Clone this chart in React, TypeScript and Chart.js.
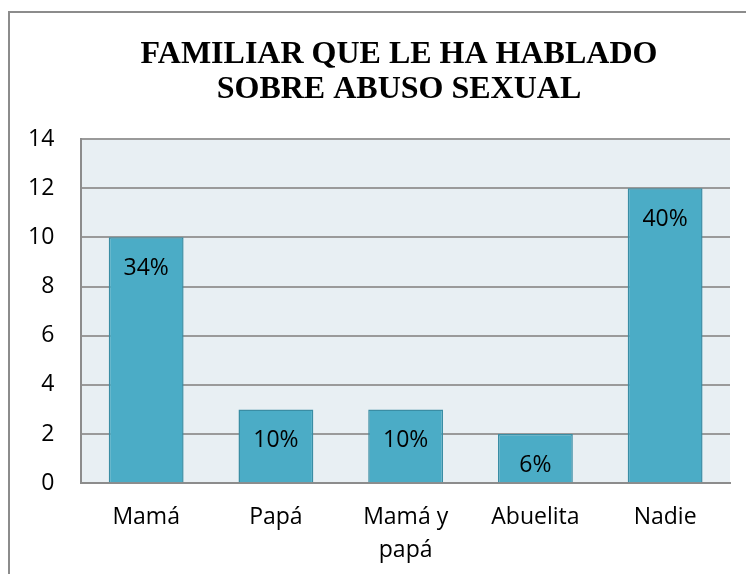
import React, { useEffect, useRef } from "react";
import { Chart, registerables } from "chart.js";

Chart.register(...registerables);

const categories: (string | string[])[] = ["Mamá", "Papá", ["Mamá y", "papá"], "Abuelita", "Nadie"];
const values = [10, 3, 3, 2, 12];
const percentLabels = ["34%", "10%", "10%", "6%", "40%"];
const titleLines = ["FAMILIAR QUE LE HA HABLADO", "SOBRE ABUSO SEXUAL"];
const yMax = 14;
const yStep = 2;

const FONT = "'Open Sans', Lato, sans-serif";
const TITLE_FONT = "bold 32px 'Liberation Serif', 'Times New Roman', serif";

const decorPlugin = {
  id: "decor",
  beforeDraw(chart: any) {
    const { ctx, chartArea } = chart;
    ctx.save();
    ctx.fillStyle = "#ffffff";
    ctx.fillRect(0, 0, chart.width, chart.height);
    ctx.strokeStyle = "#8c8c8c";
    ctx.lineWidth = 2;
    ctx.strokeRect(9, 12, chart.width + 20, chart.height + 20);
    ctx.fillStyle = "#e8eff3";
    ctx.fillRect(chartArea.left, chartArea.top, chartArea.right - chartArea.left, chartArea.bottom - chartArea.top);
    ctx.restore();
  },
  afterDatasetsDraw(chart: any) {
    const { ctx } = chart;
    const meta = chart.getDatasetMeta(0);
    ctx.save();
    ctx.fillStyle = "#000000";
    ctx.font = `23px ${FONT}`;
    ctx.textAlign = "center";
    ctx.textBaseline = "middle";
    meta.data.forEach((bar: any, i: number) => {
      ctx.fillText(percentLabels[i], bar.x, bar.y + 31);
    });
    ctx.font = TITLE_FONT;
    titleLines.forEach((line, i) => {
      ctx.fillText(line, 399, 55 + i * 35);
    });
    ctx.restore();
  },
};

export default function App() {
  const ref = useRef<HTMLCanvasElement>(null);
  useEffect(() => {
    if (!ref.current) return;
    const chart = new Chart(ref.current, {
      type: "bar",
      data: {
        labels: categories,
        datasets: [
          {
            data: values,
            backgroundColor: "#4bacc6",
            borderColor: "#3a8da4",
            borderWidth: 1.5,
            categoryPercentage: 1,
            barPercentage: 0.577,
          },
        ],
      },
      options: {
        animation: false,
        responsive: false,
        layout: { padding: { left: 1, right: 16, top: 139, bottom: -11 } },
        plugins: {
          legend: { display: false },
          tooltip: { enabled: false },
          title: { display: false },
        },
        scales: {
          x: {
            grid: { display: false, drawTicks: false },
            border: { display: true, color: "#8c8c8c", width: 2 },
            ticks: {
              color: "#000000",
              font: { family: FONT, size: 23, lineHeight: 1.43 },
              padding: 18,
              maxRotation: 0,
              autoSkip: false,
            },
          },
          y: {
            min: 0,
            max: yMax,
            grid: { color: "#9a9a9a", lineWidth: 2, drawTicks: false },
            border: { display: true, color: "#8c8c8c", width: 2 },
            ticks: {
              stepSize: yStep,
              color: "#000000",
              font: { family: FONT, size: 23 },
              padding: 27,
            },
          },
        },
      },
      plugins: [decorPlugin],
    });
    return () => chart.destroy();
  }, []);
  return (
    <div style={{ position: "fixed", left: 0, top: 0, width: 746, height: 574 }}>
      <canvas ref={ref} width={746} height={574} />
    </div>
  );
}
